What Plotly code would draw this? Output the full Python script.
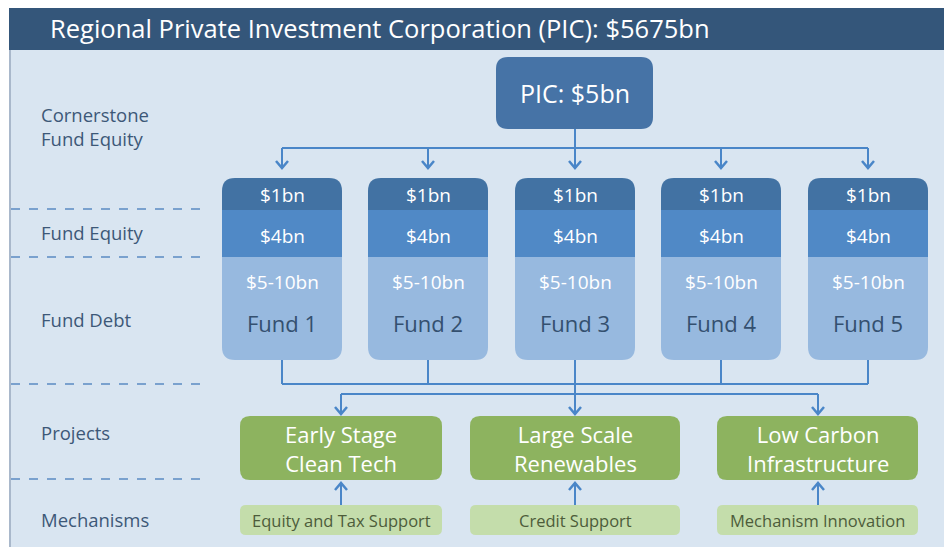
import plotly.graph_objects as go

# ---------------- data ----------------
title_text = "Regional Private Investment Corporation (PIC): $5675bn"
pic_label = "PIC: $5bn"
fund_names = ["Fund 1", "Fund 2", "Fund 3", "Fund 4", "Fund 5"]
fund_cornerstone = ["$1bn", "$1bn", "$1bn", "$1bn", "$1bn"]
fund_equity = ["$4bn", "$4bn", "$4bn", "$4bn", "$4bn"]
fund_debt = ["$5-10bn", "$5-10bn", "$5-10bn", "$5-10bn", "$5-10bn"]
projects = ["Early Stage<br>Clean Tech", "Large Scale<br>Renewables", "Low Carbon<br>Infrastructure"]
mechanisms = ["Equity and Tax Support", "Credit Support", "Mechanism Innovation"]
row_labels = ["Cornerstone<br>Fund Equity", "Fund Equity", "Fund Debt", "Projects", "Mechanisms"]

# ---------------- layout constants ----------------
W, H = 944, 547
FONT = "Open Sans"
C_TITLE = "#34567a"
C_BG = "#d9e5f1"
C_PIC = "#4673a6"
C_SEG1 = "#4272a3"
C_SEG2 = "#5089c6"
C_SEG3 = "#97b9df"
C_LINE = "#4a86c8"
C_DASH = "#5b8bc2"
C_LABEL = "#3d5878"
C_GREEN = "#8db35f"
C_LGREEN = "#c4ddab"
C_MECH_TXT = "#4d5c3a"

fund_x = [282, 428, 575, 721, 868]
fund_w = 120
f_top, f_s1, f_s2, f_bot = 178, 210, 257, 360
proj_x = [(240, 442), (470, 680), (717, 918)]
proj_cx = [341, 575, 818]
p_top, p_bot = 416, 480
m_top, m_bot = 505, 535
row_y = [126, 232, 319, 432, 519]
dash_y = [209, 257, 384, 479]

shapes = []
annotations = []


def rrect(x0, y0, x1, y1, r, color, tl=True, tr=True, br=True, bl=True, layer="below"):
    # y grows downward (axis reversed)
    p = []
    p.append(f"M {x0 + (r if tl else 0)},{y0}")
    if tr:
        p.append(f"L {x1 - r},{y0} Q {x1},{y0} {x1},{y0 + r}")
    else:
        p.append(f"L {x1},{y0}")
    if br:
        p.append(f"L {x1},{y1 - r} Q {x1},{y1} {x1 - r},{y1}")
    else:
        p.append(f"L {x1},{y1}")
    if bl:
        p.append(f"L {x0 + r},{y1} Q {x0},{y1} {x0},{y1 - r}")
    else:
        p.append(f"L {x0},{y1}")
    if tl:
        p.append(f"L {x0},{y0 + r} Q {x0},{y0} {x0 + r},{y0}")
    else:
        p.append(f"L {x0},{y0}")
    p.append("Z")
    shapes.append(dict(type="path", path=" ".join(p), xref="x", yref="y",
                       fillcolor=color, line=dict(width=0), layer=layer))


def line(x0, y0, x1, y1, color=C_LINE, width=2, dash=None):
    d = dict(type="line", x0=x0, y0=y0, x1=x1, y1=y1, xref="x", yref="y",
             line=dict(color=color, width=width), layer="above")
    if dash:
        d["line"]["dash"] = dash
    shapes.append(d)


def chevron(x, y, down=True, s=6, h=7):
    dy = -h if down else h
    shapes.append(dict(type="path", path=f"M {x - s},{y + dy} L {x},{y} L {x + s},{y + dy}",
                       xref="x", yref="y", line=dict(color=C_LINE, width=2.5), layer="above"))


def text(x, y, t, size, color, xanchor="center"):
    annotations.append(dict(x=x, y=y, xref="x", yref="y", text=t, showarrow=False,
                            xanchor=xanchor, yanchor="middle", align="center" if xanchor == "center" else "left",
                            font=dict(family=FONT, size=size, color=color)))


# background panels
shapes.append(dict(type="rect", x0=9, y0=50, x1=W, y1=H, xref="x", yref="y",
                   fillcolor=C_BG, line=dict(width=0), layer="below"))
shapes.append(dict(type="line", x0=10, y0=50, x1=10, y1=H, xref="x", yref="y",
                   line=dict(color="#a9b8cb", width=2), layer="below"))
shapes.append(dict(type="rect", x0=9, y0=8, x1=W, y1=50, xref="x", yref="y",
                   fillcolor=C_TITLE, line=dict(width=0), layer="below"))
text(48, 28, title_text, 25.5, "white", xanchor="left")

# row labels and dashed separators
for lbl, y in zip(row_labels, row_y):
    text(39, y, lbl, 18.5, C_LABEL, xanchor="left")
for y in dash_y:
    line(11, y, 205, y, color=C_DASH, width=1.5, dash="dash")

# PIC box
rrect(496, 57, 653, 129, 12, C_PIC)
text(575, 93, pic_label, 25, "white")

# connectors from PIC to funds
line(575, 129, 575, 168)
line(fund_x[0], 148, fund_x[-1], 148)
for fx in fund_x:
    line(fx, 148, fx, 168)
    chevron(fx, 168, down=True)

# funds
for fx, c1, c2, c3, name in zip(fund_x, fund_cornerstone, fund_equity, fund_debt, fund_names):
    x0, x1 = fx - fund_w / 2, fx + fund_w / 2
    rrect(x0, f_top, x1, f_s1, 13, C_SEG1, br=False, bl=False)
    rrect(x0, f_s1, x1, f_s2, 0, C_SEG2, tl=False, tr=False, br=False, bl=False)
    rrect(x0, f_s2, x1, f_bot, 13, C_SEG3, tl=False, tr=False)
    text(fx, 195, c1, 19, "white")
    text(fx, 236, c2, 19, "white")
    text(fx, 282, c3, 19, "white")
    text(fx, 323, name, 22, "#34506f")
    line(fx, f_bot, fx, 384)

# connectors from funds to projects
line(fund_x[0], 384, fund_x[-1], 384)
line(proj_cx[0], 394, proj_cx[-1], 394)
line(575, 384, 575, 414)
for cx in proj_cx:
    line(cx, 394, cx, 414)
    chevron(cx, 414, down=True)

# projects and mechanisms
for (x0, x1), cx, pt, mt in zip(proj_x, proj_cx, projects, mechanisms):
    rrect(x0, p_top, x1, p_bot, 10, C_GREEN)
    text((x0 + x1) / 2, 448, pt, 22, "white")
    rrect(x0, m_top, x1, m_bot, 6, C_LGREEN)
    text((x0 + x1) / 2, 520, mt, 16.5, C_MECH_TXT)
    line(cx, m_top, cx, 484)
    chevron(cx, 483, down=False)

fig = go.Figure(go.Scatter(x=[], y=[]))
fig.update_layout(
    width=W, height=H, autosize=False,
    margin=dict(l=0, r=0, t=0, b=0),
    paper_bgcolor="white", plot_bgcolor="white",
    xaxis=dict(range=[0, W], visible=False, fixedrange=True),
    yaxis=dict(range=[H, 0], visible=False, fixedrange=True),
    shapes=shapes, annotations=annotations, showlegend=False,
)
fig.write_html("out.html", config={"displayModeBar": False},
               post_script="document.body.style.margin='0';document.body.style.overflow='hidden';")
